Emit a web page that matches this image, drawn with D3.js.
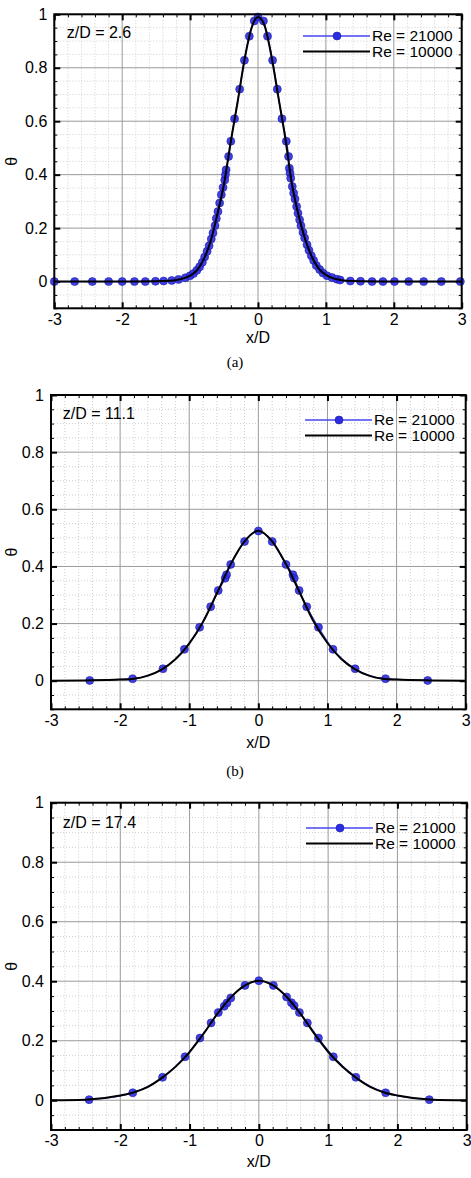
<!DOCTYPE html>
<html>
<head>
<meta charset="utf-8">
<style>
body { margin: 0; background: #fff; }
svg { display: block; font-family: Arial, "Liberation Sans", sans-serif; }
</style>
</head>
<body>
<svg width="471" height="1178"></svg>
<script src="https://cdn.jsdelivr.net/npm/d3@7/dist/d3.min.js"></script>
<script>

// (a) z/D = 2.6 -- Re = 21000 symbols
var xA21 = [-3.00,-2.70,-2.44,-2.20,-2.00,-1.82,-1.66,-1.51,-1.39,-1.27,-1.17,-1.07,-1.00,-0.95,-0.90,-0.86,-0.82,-0.786,-0.75,-0.72,-0.688,-0.663,-0.633,-0.614,-0.59,-0.565,-0.54,-0.515,-0.49,-0.48,-0.47,-0.433,-0.40,-0.345,-0.27,-0.20,-0.128,-0.055,0.0,
            0.08,0.14,0.215,0.284,0.353,0.417,0.45,0.462,0.472,0.482,0.505,0.525,0.545,0.569,0.589,0.613,0.633,0.663,0.687,0.722,0.751,0.785,0.82,0.859,0.908,0.957,1.016,1.09,1.163,1.21,1.36,1.51,1.68,1.84,2.01,2.22,2.44,2.70,2.98];
var tA21 = [0,0,0,0,0,0,0,0.001,0.002,0.004,0.008,0.014,0.022,0.030,0.042,0.055,0.072,0.092,0.113,0.134,0.159,0.182,0.209,0.236,0.262,0.294,0.325,0.352,0.38,0.40,0.418,0.468,0.525,0.609,0.72,0.828,0.918,0.975,0.99,
            0.975,0.918,0.828,0.72,0.609,0.525,0.468,0.424,0.406,0.387,0.356,0.331,0.309,0.281,0.256,0.231,0.209,0.184,0.163,0.138,0.117,0.097,0.079,0.06,0.045,0.032,0.022,0.015,0.009,0.006,0.002,0.001,0,0,0,0,0,0,0];
// (a) Re = 10000 line
var xA10 = [-3,-2,-1.5,-1.3,-1.2,-1.1,-1.0,-0.9,-0.8,-0.7,-0.6,-0.5,-0.4,-0.3,-0.2,-0.1,0,0.1,0.2,0.3,0.4,0.5,0.6,0.7,0.8,0.9,1.0,1.1,1.2,1.3,1.5,2,3];
var tA10 = [0,0,0.001,0.003,0.006,0.012,0.022,0.042,0.083,0.149,0.250,0.366,0.525,0.672,0.828,0.945,0.99,0.955,0.84,0.69,0.54,0.365,0.245,0.154,0.089,0.047,0.025,0.013,0.007,0.003,0.001,0,0];

// (b) z/D = 11.1
var xB21 = [-2.44,-1.82,-1.38,-1.07,-0.85,-0.69,-0.58,-0.48,-0.46,-0.40,-0.20,0.0,0.20,0.40,0.50,0.52,0.59,0.70,0.87,1.08,1.40,1.84,2.45];
var tB21 = [0.001,0.007,0.042,0.110,0.187,0.259,0.316,0.359,0.371,0.407,0.487,0.524,0.487,0.407,0.371,0.359,0.316,0.259,0.187,0.110,0.042,0.007,0.001];
var xB10 = [-3,-2.5,-2,-1.8,-1.6,-1.4,-1.2,-1.0,-0.8,-0.6,-0.4,-0.2,0,0.2,0.4,0.6,0.8,1.0,1.2,1.4,1.6,1.8,2,2.5,3];
var tB10 = [0,0.001,0.004,0.007,0.018,0.039,0.075,0.130,0.206,0.306,0.408,0.488,0.525,0.488,0.408,0.308,0.207,0.132,0.076,0.040,0.018,0.007,0.004,0.001,0];

// (c) z/D = 17.4
var xC21 = [-2.45,-1.82,-1.39,-1.065,-0.85,-0.69,-0.585,-0.50,-0.46,-0.405,-0.20,0.0,0.21,0.40,0.47,0.51,0.585,0.70,0.86,1.075,1.40,1.83,2.46];
var tC21 = [0.002,0.025,0.077,0.146,0.209,0.260,0.295,0.316,0.327,0.344,0.386,0.402,0.386,0.347,0.328,0.318,0.295,0.260,0.209,0.146,0.077,0.025,0.002];
var xC10 = [-3,-2.5,-2,-1.8,-1.6,-1.4,-1.2,-1.0,-0.8,-0.6,-0.4,-0.2,0,0.2,0.4,0.6,0.8,1.0,1.2,1.4,1.6,1.8,2,2.5,3];
var tC10 = [0,0.002,0.016,0.027,0.045,0.075,0.113,0.162,0.223,0.290,0.347,0.386,0.402,0.387,0.348,0.291,0.224,0.163,0.114,0.076,0.046,0.027,0.016,0.002,0];

var xTicks = [-3,-2,-1,0,1,2,3];
var yTicks = [0,0.2,0.4,0.6,0.8,1];
var seriesNames = ["Re = 21000", "Re = 10000"];
var stationLabels = ["z/D = 2.6", "z/D = 11.1", "z/D = 17.4"];
var captions = ["(a)", "(b)", ""];

var svg = d3.select("svg");

var panels = [
  {left: 54.3, right: 461.7, top: 14.3, bottom: 308.3, labX: 66.7, labY: 37.5, legX: 303, legY: 36, xlabY: 343, capY: 367,
   m: [xA21, tA21], l: [xA10, tA10]},
  {left: 51, right: 465.7, top: 395, bottom: 709.3, labX: 62.7, labY: 419, legX: 305, legY: 420, xlabY: 748, capY: 776,
   m: [xB21, tB21], l: [xB10, tB10]},
  {left: 51, right: 466.7, top: 802.7, bottom: 1130, labX: 62.7, labY: 827.5, legX: 306, legY: 828, xlabY: 1166.5, capY: 0,
   m: [xC21, tC21], l: [xC10, tC10]}
];
var legGap = 15.5;

var xMinor = d3.range(-3, 3.001, 0.2).map(function(d) { return Math.round(d * 10) / 10; })
  .filter(function(d) { return xTicks.indexOf(d) < 0; });
var yMinor = d3.range(-0.1, 1.001, 0.05).map(function(d) { return Math.round(d * 100) / 100; })
  .filter(function(d) { return yTicks.indexOf(d) < 0; });

function fmt(d) { return String(d); }

panels.forEach(function(p, i) {
  var x = d3.scaleLinear().domain([-3, 3]).range([p.left, p.right]);
  var y = d3.scaleLinear().domain([-0.1, 1]).range([p.bottom, p.top]);
  var g = svg.append("g");

  // minor grid (dotted)
  g.append("g").selectAll("line").data(xMinor).enter().append("line")
    .attr("x1", x).attr("x2", x).attr("y1", p.top).attr("y2", p.bottom)
    .attr("stroke", "#cfcfcf").attr("stroke-dasharray", "1,2");
  g.append("g").selectAll("line").data(yMinor).enter().append("line")
    .attr("y1", y).attr("y2", y).attr("x1", p.left).attr("x2", p.right)
    .attr("stroke", "#cfcfcf").attr("stroke-dasharray", "1,2");

  // major grid
  g.append("g").selectAll("line").data(xTicks).enter().append("line")
    .attr("x1", x).attr("x2", x).attr("y1", p.top).attr("y2", p.bottom)
    .attr("stroke", "#9a9a9a").attr("stroke-width", 1);
  g.append("g").selectAll("line").data(yTicks).enter().append("line")
    .attr("y1", y).attr("y2", y).attr("x1", p.left).attr("x2", p.right)
    .attr("stroke", "#9a9a9a").attr("stroke-width", 1);

  // axes with inward ticks
  var h = p.bottom, w = p.right;
  var bx = g.append("g").attr("transform", "translate(0," + h + ")")
    .call(d3.axisBottom(x).tickValues(xTicks).tickFormat(fmt).tickSizeInner(-6).tickSizeOuter(0).tickPadding(5));
  var tx = g.append("g").attr("transform", "translate(0," + p.top + ")")
    .call(d3.axisTop(x).tickValues(xTicks).tickFormat("").tickSizeInner(-6).tickSizeOuter(0));
  var ly = g.append("g").attr("transform", "translate(" + p.left + ",0)")
    .call(d3.axisLeft(y).tickValues(yTicks).tickFormat(fmt).tickSizeInner(-6).tickSizeOuter(0).tickPadding(7));
  var ry = g.append("g").attr("transform", "translate(" + w + ",0)")
    .call(d3.axisRight(y).tickValues(yTicks).tickFormat("").tickSizeInner(-6).tickSizeOuter(0));
  // minor ticks
  var mb = g.append("g").attr("transform", "translate(0," + h + ")")
    .call(d3.axisBottom(x).tickValues(xMinor).tickFormat("").tickSizeInner(-3).tickSizeOuter(0));
  var mt = g.append("g").attr("transform", "translate(0," + p.top + ")")
    .call(d3.axisTop(x).tickValues(xMinor).tickFormat("").tickSizeInner(-3).tickSizeOuter(0));
  var ml = g.append("g").attr("transform", "translate(" + p.left + ",0)")
    .call(d3.axisLeft(y).tickValues(yMinor).tickFormat("").tickSizeInner(-3).tickSizeOuter(0));
  var mr = g.append("g").attr("transform", "translate(" + w + ",0)")
    .call(d3.axisRight(y).tickValues(yMinor).tickFormat("").tickSizeInner(-3).tickSizeOuter(0));

  [bx, tx, ly, ry].forEach(function(a) {
    a.select(".domain").remove();
    a.selectAll(".tick line").attr("stroke", "#000").attr("stroke-width", 2);
    a.selectAll(".tick text").attr("fill", "#000").attr("font-size", 16)
      .attr("font-family", "Arial, 'Liberation Sans', sans-serif");
  });
  [mb, mt, ml, mr].forEach(function(a) {
    a.select(".domain").remove();
    a.selectAll(".tick line").attr("stroke", "#000").attr("stroke-width", 1);
  });

  // data
  var mData = p.m[0].map(function(d, k) { return [d, p.m[1][k]]; });
  var lData = p.l[0].map(function(d, k) { return [d, p.l[1][k]]; });
  var line = d3.line()
    .x(function(d) { return x(d[0]); })
    .y(function(d) { return y(d[1]); })
    .curve(d3.curveMonotoneX);

  g.append("path").datum(mData).attr("d", line)
    .attr("fill", "none").attr("stroke", "#4646f0").attr("stroke-width", 1.3);
  g.append("g").selectAll("circle").data(mData).enter().append("circle")
    .attr("cx", function(d) { return x(d[0]); })
    .attr("cy", function(d) { return y(d[1]); })
    .attr("r", 4)
    .attr("fill", "#2c2ce0").attr("fill-opacity", 0.9)
    .attr("stroke", "#1c1cb0").attr("stroke-width", 0.6);
  g.append("path").datum(lData).attr("d", line)
    .attr("fill", "none").attr("stroke", "#000").attr("stroke-width", 2);

  // frame
  g.append("rect")
    .attr("x", p.left).attr("y", p.top)
    .attr("width", p.right - p.left).attr("height", p.bottom - p.top)
    .attr("fill", "none").attr("stroke", "#000").attr("stroke-width", 2);

  // legend
  var lg = g.append("g").attr("font-size", 15.5);
  lg.append("line").attr("x1", p.legX).attr("x2", p.legX + 67)
    .attr("y1", p.legY).attr("y2", p.legY)
    .attr("stroke", "#4646f0").attr("stroke-width", 1.5);
  lg.append("circle").attr("cx", p.legX + 34).attr("cy", p.legY).attr("r", 4)
    .attr("fill", "#2c2ce0").attr("stroke", "#1c1cb0").attr("stroke-width", 0.6);
  lg.append("line").attr("x1", p.legX).attr("x2", p.legX + 67)
    .attr("y1", p.legY + legGap).attr("y2", p.legY + legGap)
    .attr("stroke", "#000").attr("stroke-width", 2);
  seriesNames.forEach(function(s, k) {
    lg.append("text").attr("x", p.legX + 69).attr("y", p.legY + k * legGap)
      .attr("dy", "0.35em").text(s);
  });

  // station label
  g.append("text").attr("x", p.labX).attr("y", p.labY)
    .attr("font-size", 16).text(stationLabels[i]);

  // axis titles
  g.append("text")
    .attr("transform", "translate(11," + ((p.top + p.bottom) / 2) + ") rotate(-90)")
    .attr("text-anchor", "middle").attr("dy", "0.35em")
    .attr("font-size", 16).text("θ");
  g.append("text").attr("x", (p.left + p.right) / 2).attr("y", p.xlabY)
    .attr("text-anchor", "middle").attr("font-size", 16).text("x/D");

  if (captions[i]) {
    g.append("text").attr("x", 235).attr("y", p.capY)
      .attr("text-anchor", "middle")
      .attr("font-family", "'Liberation Serif', 'DejaVu Serif', serif")
      .attr("font-size", 15).text(captions[i]);
  }
});

</script>
</body>
</html>
